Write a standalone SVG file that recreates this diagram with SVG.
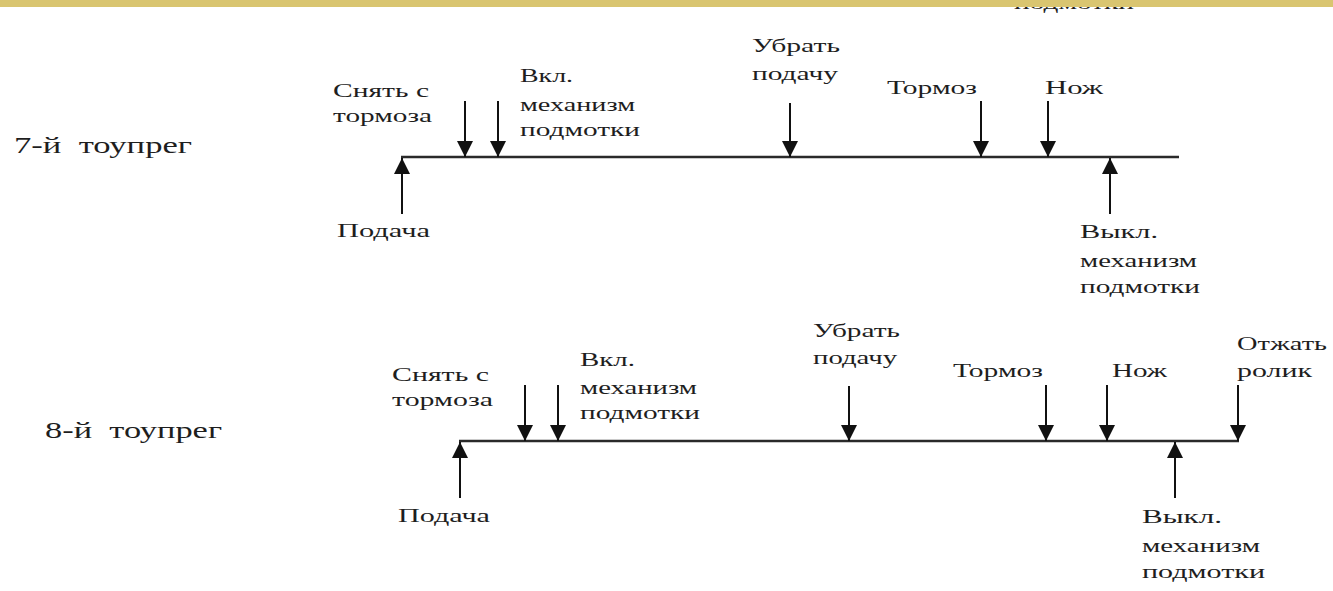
<svg xmlns="http://www.w3.org/2000/svg" width="1333" height="591" viewBox="0 0 1333 591">
<style>
.t{font-family:"Liberation Serif","Times New Roman",serif;font-size:18px;fill:#1e1e1e}
.h{font-family:"Liberation Serif","Times New Roman",serif;font-size:23px;fill:#1e1e1e}
.ax{stroke:#2a2a2a;stroke-width:2.5;fill:none}
.ar{stroke:#111;stroke-width:2;fill:none;marker-end:url(#ah)}
</style>
<defs>
<marker id="ah" viewBox="0 0 16 16" refX="16" refY="8" markerWidth="16" markerHeight="16" markerUnits="userSpaceOnUse" orient="auto">
<path d="M0,0 L16,8 L0,16 z" fill="#111"/>
</marker>
</defs>
<rect width="1333" height="591" fill="#fff"/>
<text class="t" x="1014" y="9" textLength="120" lengthAdjust="spacingAndGlyphs">подмотки</text>
<rect x="0" y="0" width="1333" height="7" fill="#d9c570"/>

<g id="row7-label"><text class="h" x="14" y="153" textLength="178" lengthAdjust="spacingAndGlyphs" xml:space="preserve">7-й  тоупрег</text></g>
<g id="row8-label"><text class="h" x="45" y="438" textLength="177" lengthAdjust="spacingAndGlyphs" xml:space="preserve">8-й  тоупрег</text></g>

<g id="connectors">
<line class="ax" x1="401" y1="157" x2="1179" y2="157"/>
<line class="ar" x1="402" y1="214" x2="402" y2="158"/>
<line class="ar" x1="465" y1="101" x2="465" y2="157"/>
<line class="ar" x1="498" y1="101" x2="498" y2="157"/>
<line class="ar" x1="790" y1="103" x2="790" y2="157"/>
<line class="ar" x1="981" y1="101" x2="981" y2="157"/>
<line class="ar" x1="1048" y1="101" x2="1048" y2="157"/>
<line class="ar" x1="1110" y1="214" x2="1110" y2="158"/>

<line class="ax" x1="459" y1="441" x2="1239" y2="441"/>
<line class="ar" x1="460" y1="498" x2="460" y2="442"/>
<line class="ar" x1="525" y1="385" x2="525" y2="441"/>
<line class="ar" x1="558" y1="385" x2="558" y2="441"/>
<line class="ar" x1="849" y1="386" x2="849" y2="441"/>
<line class="ar" x1="1046" y1="385" x2="1046" y2="441"/>
<line class="ar" x1="1107" y1="385" x2="1107" y2="441"/>
<line class="ar" x1="1238" y1="385" x2="1238" y2="441"/>
<line class="ar" x1="1175" y1="498" x2="1175" y2="442"/>
</g>

<g id="n7-podacha"><text class="t" x="337" y="237" textLength="93" lengthAdjust="spacingAndGlyphs">Подача</text></g>
<g id="n7-snyat"><text class="t" x="333" y="97" textLength="96" lengthAdjust="spacingAndGlyphs">Снять с</text><text class="t" x="333" y="122" textLength="99" lengthAdjust="spacingAndGlyphs">тормоза</text></g>
<g id="n7-vkl"><text class="t" x="520" y="82" textLength="53" lengthAdjust="spacingAndGlyphs">Вкл.</text><text class="t" x="520" y="111" textLength="115" lengthAdjust="spacingAndGlyphs">механизм</text><text class="t" x="520" y="136" textLength="120" lengthAdjust="spacingAndGlyphs">подмотки</text></g>
<g id="n7-ubrat"><text class="t" x="752" y="52" textLength="88" lengthAdjust="spacingAndGlyphs">Убрать</text><text class="t" x="752" y="80" textLength="86" lengthAdjust="spacingAndGlyphs">подачу</text></g>
<g id="n7-tormoz"><text class="t" x="887" y="94" textLength="90" lengthAdjust="spacingAndGlyphs">Тормоз</text></g>
<g id="n7-nozh"><text class="t" x="1045" y="94" textLength="58" lengthAdjust="spacingAndGlyphs">Нож</text></g>
<g id="n7-vykl"><text class="t" x="1080" y="238" textLength="78" lengthAdjust="spacingAndGlyphs">Выкл.</text><text class="t" x="1080" y="267" textLength="117" lengthAdjust="spacingAndGlyphs">механизм</text><text class="t" x="1080" y="293" textLength="120" lengthAdjust="spacingAndGlyphs">подмотки</text></g>

<g id="n8-podacha"><text class="t" x="398" y="522" textLength="92" lengthAdjust="spacingAndGlyphs">Подача</text></g>
<g id="n8-snyat"><text class="t" x="392" y="381" textLength="97" lengthAdjust="spacingAndGlyphs">Снять с</text><text class="t" x="392" y="406" textLength="101" lengthAdjust="spacingAndGlyphs">тормоза</text></g>
<g id="n8-vkl"><text class="t" x="580" y="366" textLength="55" lengthAdjust="spacingAndGlyphs">Вкл.</text><text class="t" x="580" y="394" textLength="117" lengthAdjust="spacingAndGlyphs">механизм</text><text class="t" x="580" y="419" textLength="120" lengthAdjust="spacingAndGlyphs">подмотки</text></g>
<g id="n8-ubrat"><text class="t" x="813" y="337" textLength="87" lengthAdjust="spacingAndGlyphs">Убрать</text><text class="t" x="813" y="364" textLength="84" lengthAdjust="spacingAndGlyphs">подачу</text></g>
<g id="n8-tormoz"><text class="t" x="953" y="377" textLength="90" lengthAdjust="spacingAndGlyphs">Тормоз</text></g>
<g id="n8-nozh"><text class="t" x="1112" y="377" textLength="55" lengthAdjust="spacingAndGlyphs">Нож</text></g>
<g id="n8-otzhat"><text class="t" x="1237" y="350" textLength="90" lengthAdjust="spacingAndGlyphs">Отжать</text><text class="t" x="1237" y="377" textLength="75" lengthAdjust="spacingAndGlyphs">ролик</text></g>
<g id="n8-vykl"><text class="t" x="1142" y="523" textLength="80" lengthAdjust="spacingAndGlyphs">Выкл.</text><text class="t" x="1142" y="552" textLength="118" lengthAdjust="spacingAndGlyphs">механизм</text><text class="t" x="1142" y="578" textLength="123" lengthAdjust="spacingAndGlyphs">подмотки</text></g>
</svg>
